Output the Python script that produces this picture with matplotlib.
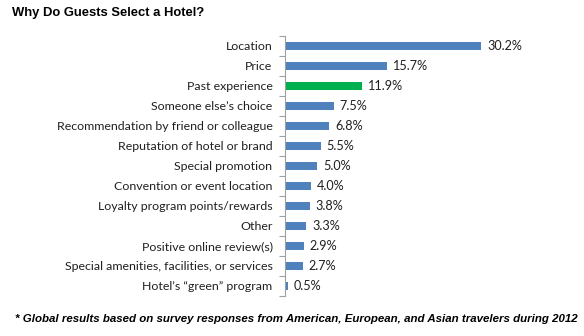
import matplotlib
matplotlib.use("Agg")
import matplotlib.pyplot as plt
import numpy as np

categories = [
    "Location", "Price", "Past experience", "Someone else\u2019s choice",
    "Recommendation by friend or colleague", "Reputation of hotel or brand",
    "Special promotion", "Convention or event location",
    "Loyalty program points/rewards", "Other", "Positive online review(s)",
    "Special amenities, facilities, or services", "Hotel\u2019s \u201cgreen\u201d program",
]
values = [30.2, 15.7, 11.9, 7.5, 6.8, 5.5, 5.0, 4.0, 3.8, 3.3, 2.9, 2.7, 0.5]
highlight = "Past experience"

blue = "#4F81BD"
green = "#00B050"
colors = [green if c == highlight else blue for c in categories]

fig = plt.figure(figsize=(5.84, 3.36), dpi=100)
ax = fig.add_axes([285 / 584, 1 - 296 / 336, 230 / 584, 260 / 336])

y = np.arange(len(categories))
ax.barh(y, values, height=0.42, color=colors)
ax.set_ylim(len(categories) - 0.5, -0.5)
ax.set_xlim(0, 35.4)

for yi, v in zip(y, values):
    ax.text(v + 0.9, yi, f"{v:.1f}%", va="center", ha="left",
            fontsize=9.1, family="Lato", color="#202020")

ax.set_yticks(y)
ax.set_yticklabels(categories, fontsize=8.9, family="Lato", color="#202020")
ax.tick_params(axis="y", which="major", length=0, pad=9)
ax.set_yticks(np.arange(-0.5, len(categories), 1.0), minor=True)
ax.tick_params(axis="y", which="minor", length=4, color="#A0A0A0", width=0.8)
ax.set_xticks([])
for s in ["top", "right", "bottom"]:
    ax.spines[s].set_visible(False)
ax.spines["left"].set_color("#A0A0A0")
ax.spines["left"].set_linewidth(0.8)

fig.text(12 / 584, 1 - 13 / 336, "Why Do Guests Select a Hotel?", fontsize=9.4,
         fontweight="bold", family="Liberation Sans", va="center", ha="left")
fig.text(15 / 584, 1 - 319 / 336,
         "* Global results based on survey responses from American, European, and Asian travelers during 2012",
         fontsize=8.25, fontweight="bold", fontstyle="italic", family="Liberation Sans",
         va="center", ha="left")

fig.savefig("out.png", dpi=100)
